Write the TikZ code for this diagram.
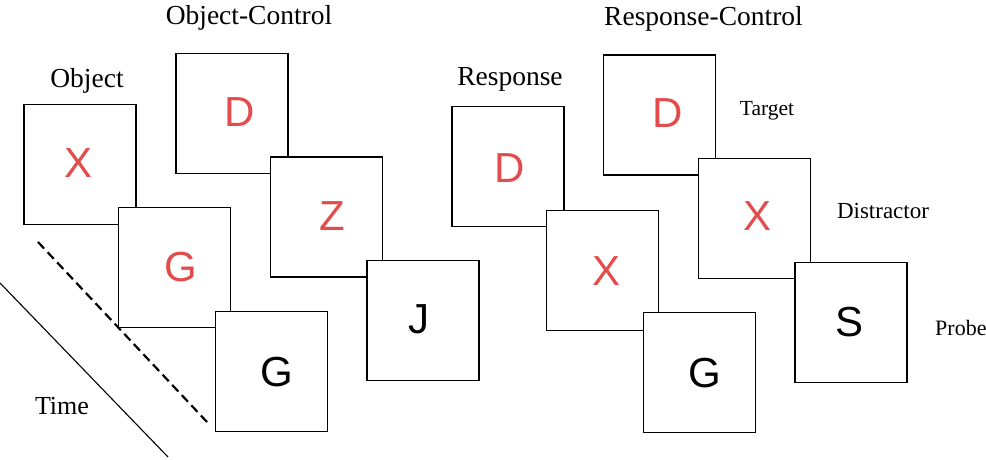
\documentclass[tikz,border=0pt]{standalone}
\usepackage{fontspec}
\setmainfont{Liberation Serif}
\newfontfamily\lettersans{Liberation Sans}
\definecolor{stimred}{RGB}{226,76,76}
\begin{document}
\begin{tikzpicture}[x=1pt,y=-1pt,
  card/.style={draw=black, fill=white, line width=1.3pt, minimum width=112pt,
               minimum height=120pt, inner sep=0pt},
  glyph/.style={font=\lettersans\fontsize{42}{42}\selectfont, inner sep=0pt, anchor=base},
  redglyph/.style={glyph, text=stimred},
  head/.style={font=\fontsize{27.5}{27.5}\selectfont, inner sep=0pt, anchor=base},
  role/.style={font=\fontsize{22}{22}\selectfont, inner sep=0pt, anchor=base}]
\useasboundingbox (0,0) rectangle (986,460);

% time axis and the diagonal dashed guide
\coordinate (t0) at (0,283);
\coordinate (t1) at (168,457);
\draw[line width=1.1pt] (t0) -- (t1);
\coordinate (d0) at (38,242);
\coordinate (d1) at (207,422);
\draw[line width=2.2pt, dash pattern=on 9pt off 5pt] (d0) -- (d1);
\node[head, font=\fontsize{26}{26}\selectfont] (time) at (62,414) {Time};

% Object condition
\node[head] (objlbl) at (87,88) {Object};
\node[card] (o1) at (80,164.5) {};
\node[redglyph] (o1l) at (79,177) {X};
\node[card] (o2) at (174.5,267.5) {};
\node[redglyph] (o2l) at (181,281) {G};
\node[card] (o3) at (271.5,371.5) {};
\node[glyph] (o3l) at (277,386) {G};

% Object-Control condition
\node[head] (oclbl) at (249,25) {Object-Control};
\node[card] (c1) at (232,113.5) {};
\node[redglyph] (c1l) at (240,126) {D};
\node[card] (c2) at (326.5,217) {};
\node[redglyph] (c2l) at (332,230) {Z};
\node[card] (c3) at (423,320.5) {};
\node[glyph] (c3l) at (419,333) {J};

% Response condition
\node[head] (resplbl) at (510,85) {Response};
\node[card] (r1) at (508,166.5) {};
\node[redglyph] (r1l) at (510,182) {D};
\node[card] (r2) at (602.5,270.5) {};
\node[redglyph] (r2l) at (607,285) {X};
\node[card] (r3) at (699.5,372.5) {};
\node[glyph] (r3l) at (705,387) {G};

% Response-Control condition
\node[head] (rclbl) at (703.5,26) {Response-Control};
\node[card] (s1) at (659.5,115) {};
\node[redglyph] (s1l) at (668,128) {D};
\node[card] (s2) at (754.5,218.5) {};
\node[redglyph] (s2l) at (757,230) {X};
\node[card] (s3) at (851,322.5) {};
\node[glyph] (s3l) at (849,336) {S};

% roles of the three frames
\node[role, font=\fontsize{21.5}{21.5}\selectfont] (target) at (767,115) {Target};
\node[role, font=\fontsize{23}{23}\selectfont] (distr) at (883,218) {Distractor};
\node[role, anchor=base west] (probe) at (935,335) {Probe};
\end{tikzpicture}
\end{document}
